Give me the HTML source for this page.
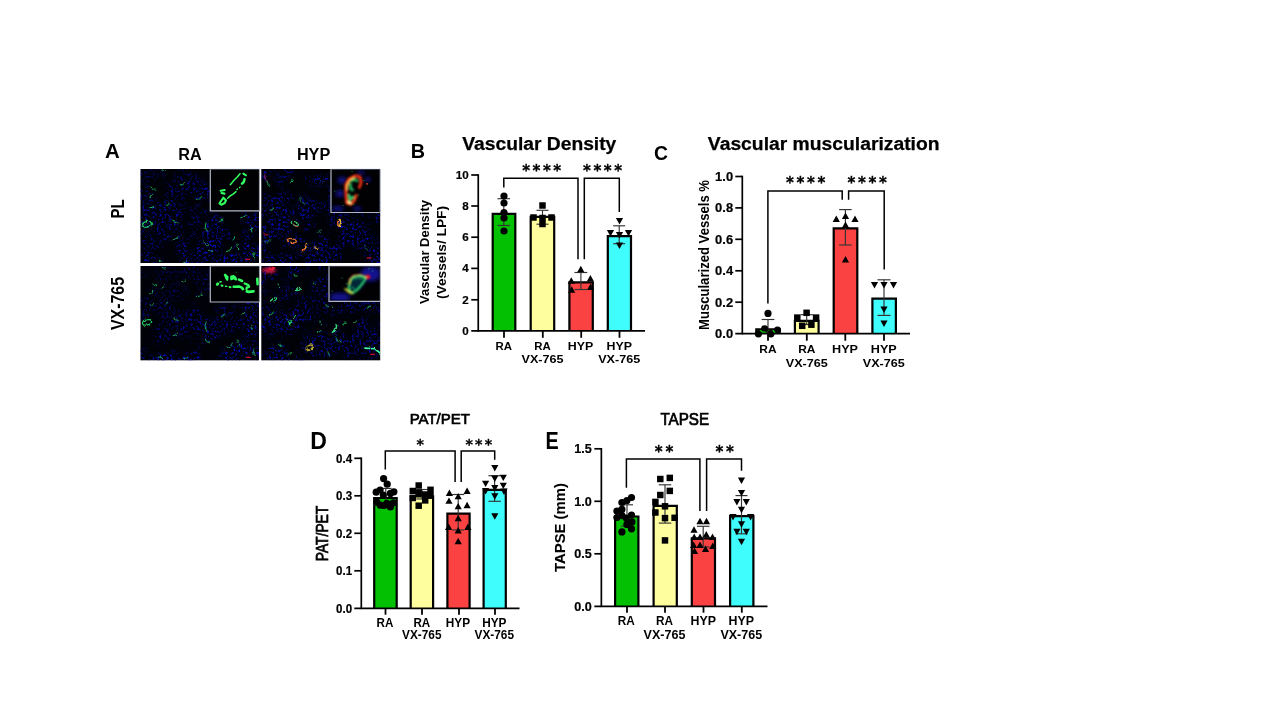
<!DOCTYPE html><html><head><meta charset="utf-8"><title>Figure</title><style>html,body{margin:0;padding:0;background:#fff}svg{display:block}text{font-family:"Liberation Sans", sans-serif}</style></head><body>
<svg width="1280" height="720" viewBox="0 0 1280 720">
<rect width="1280" height="720" fill="#fff"/>
<text x="104.9" y="158.1" font-size="19.5" font-weight="bold" text-anchor="start" fill="#000" textLength="14.8" lengthAdjust="spacingAndGlyphs">A</text>
<text x="190" y="160" font-size="16.5" font-weight="bold" text-anchor="middle" fill="#000" textLength="23.4" lengthAdjust="spacingAndGlyphs">RA</text>
<text x="313.6" y="160.4" font-size="16.8" font-weight="bold" text-anchor="middle" fill="#000" textLength="33.4" lengthAdjust="spacingAndGlyphs">HYP</text>
<text x="124.2" y="209" font-size="17.5" font-weight="bold" text-anchor="middle" fill="#000" textLength="19" lengthAdjust="spacingAndGlyphs" transform="rotate(-90 124.2 209)">PL</text>
<text x="124.2" y="303.5" font-size="17.5" font-weight="bold" text-anchor="middle" fill="#000" textLength="53" lengthAdjust="spacingAndGlyphs" transform="rotate(-90 124.2 303.5)">VX-765</text>
<defs>
<filter id="spk0" x="0" y="0" width="100%" height="100%" color-interpolation-filters="sRGB">
<feTurbulence type="fractalNoise" baseFrequency="0.42" numOctaves="2" seed="11" result="n"/>
<feColorMatrix in="n" type="matrix" values="0 0 0 0 0.03  0 0 0 0 0.04  0 0 0 0 0.74  4.2 0 0 0 -2.12" result="b"/>
<feTurbulence type="fractalNoise" baseFrequency="0.045" numOctaves="3" seed="5" result="m"/>
<feColorMatrix in="m" type="matrix" values="0 0 0 0 0  0 0 0 0 0  0 0 0 0 0  0 5 0 0 -1.85" result="mm"/>
<feComposite in="b" in2="mm" operator="in" result="c"/>
<feComposite in="c" in2="SourceGraphic" operator="in"/>
</filter>
<filter id="spk1" x="0" y="0" width="100%" height="100%" color-interpolation-filters="sRGB">
<feTurbulence type="fractalNoise" baseFrequency="0.42" numOctaves="2" seed="23" result="n"/>
<feColorMatrix in="n" type="matrix" values="0 0 0 0 0.03  0 0 0 0 0.04  0 0 0 0 0.74  4.2 0 0 0 -2.12" result="b"/>
<feTurbulence type="fractalNoise" baseFrequency="0.045" numOctaves="3" seed="9" result="m"/>
<feColorMatrix in="m" type="matrix" values="0 0 0 0 0  0 0 0 0 0  0 0 0 0 0  0 5 0 0 -1.85" result="mm"/>
<feComposite in="b" in2="mm" operator="in" result="c"/>
<feComposite in="c" in2="SourceGraphic" operator="in"/>
</filter>
<filter id="spk2" x="0" y="0" width="100%" height="100%" color-interpolation-filters="sRGB">
<feTurbulence type="fractalNoise" baseFrequency="0.42" numOctaves="2" seed="37" result="n"/>
<feColorMatrix in="n" type="matrix" values="0 0 0 0 0.03  0 0 0 0 0.04  0 0 0 0 0.74  4.2 0 0 0 -2.12" result="b"/>
<feTurbulence type="fractalNoise" baseFrequency="0.045" numOctaves="3" seed="14" result="m"/>
<feColorMatrix in="m" type="matrix" values="0 0 0 0 0  0 0 0 0 0  0 0 0 0 0  0 5 0 0 -1.85" result="mm"/>
<feComposite in="b" in2="mm" operator="in" result="c"/>
<feComposite in="c" in2="SourceGraphic" operator="in"/>
</filter>
<filter id="spk3" x="0" y="0" width="100%" height="100%" color-interpolation-filters="sRGB">
<feTurbulence type="fractalNoise" baseFrequency="0.42" numOctaves="2" seed="41" result="n"/>
<feColorMatrix in="n" type="matrix" values="0 0 0 0 0.03  0 0 0 0 0.04  0 0 0 0 0.74  4.2 0 0 0 -2.12" result="b"/>
<feTurbulence type="fractalNoise" baseFrequency="0.045" numOctaves="3" seed="19" result="m"/>
<feColorMatrix in="m" type="matrix" values="0 0 0 0 0  0 0 0 0 0  0 0 0 0 0  0 5 0 0 -1.85" result="mm"/>
<feComposite in="b" in2="mm" operator="in" result="c"/>
<feComposite in="c" in2="SourceGraphic" operator="in"/>
</filter>
<linearGradient id="tg0" x1="0" y1="0" x2="0.35" y2="1"><stop offset="0" stop-color="#fff" stop-opacity="0.55"/><stop offset="0.5" stop-color="#fff" stop-opacity="0.8"/><stop offset="1" stop-color="#fff" stop-opacity="1"/></linearGradient>
<linearGradient id="tg1" x1="0" y1="0" x2="0.2" y2="1"><stop offset="0" stop-color="#fff" stop-opacity="0.85"/><stop offset="1" stop-color="#fff" stop-opacity="0.9"/></linearGradient>
<linearGradient id="tg2" x1="0" y1="0" x2="0.4" y2="1"><stop offset="0" stop-color="#fff" stop-opacity="0.35"/><stop offset="0.45" stop-color="#fff" stop-opacity="0.6"/><stop offset="1" stop-color="#fff" stop-opacity="1"/></linearGradient>
<linearGradient id="tg3" x1="0" y1="0" x2="0.2" y2="1"><stop offset="0" stop-color="#fff" stop-opacity="0.75"/><stop offset="1" stop-color="#fff" stop-opacity="0.8"/></linearGradient>
<filter id="gr" x="-10%" y="-10%" width="120%" height="120%">
<feTurbulence type="fractalNoise" baseFrequency="0.35" numOctaves="2" seed="3" result="t"/>
<feDisplacementMap in="SourceGraphic" in2="t" scale="3.2" xChannelSelector="R" yChannelSelector="G" result="d"/>
<feGaussianBlur in="d" stdDeviation="0.4"/>
</filter>
<filter id="bl" x="-20%" y="-20%" width="140%" height="140%"><feGaussianBlur stdDeviation="0.45"/></filter>
<filter id="bl2" x="-30%" y="-30%" width="160%" height="160%"><feGaussianBlur stdDeviation="2.2"/></filter>
<filter id="bl3" x="-30%" y="-30%" width="160%" height="160%"><feGaussianBlur stdDeviation="0.8"/></filter>
</defs>
<rect x="140.5" y="169" width="118.5" height="94" fill="#010208"/>
<rect x="140.5" y="169" width="118.5" height="94" fill="url(#tg0)" filter="url(#spk0)"/>
<g filter="url(#gr)" clip-path="url(#cp0)">
<clipPath id="cp0"><rect x="140.5" y="169" width="118.5" height="94"/></clipPath>
<ellipse cx="147.0" cy="224.3" rx="4.4" ry="2.8" transform="rotate(-15 147.0 224.3)" stroke="#22e070" stroke-width="1.2" stroke-opacity="0.9" fill="none"/>
<path d="M150.8 187.0Q152.5 190.0 155.8 189.4" stroke="#22e070" stroke-width="0.9" stroke-opacity="0.85" fill="none" stroke-linecap="round"/>
<path d="M149.6 197.2Q152.1 197.0 152.8 194.5" stroke="#22e070" stroke-width="0.9" stroke-opacity="0.85" fill="none" stroke-linecap="round"/>
<path d="M149.9 207.7Q152.4 208.3 153.8 206.3" stroke="#22e070" stroke-width="0.9" stroke-opacity="0.85" fill="none" stroke-linecap="round"/>
<path d="M166.5 205.8Q169.0 205.1 169.2 202.6" stroke="#22e070" stroke-width="0.9" stroke-opacity="0.85" fill="none" stroke-linecap="round"/>
<path d="M180.2 184.9Q183.0 185.6 184.7 183.2" stroke="#22e070" stroke-width="0.9" stroke-opacity="0.85" fill="none" stroke-linecap="round"/>
<path d="M196.3 199.3Q200.0 199.9 201.9 196.6" stroke="#22e070" stroke-width="0.9" stroke-opacity="0.85" fill="none" stroke-linecap="round"/>
<path d="M172.8 220.0Q174.4 223.4 178.2 223.1" stroke="#22e070" stroke-width="0.9" stroke-opacity="0.85" fill="none" stroke-linecap="round"/>
<path d="M206.0 223.0Q203.9 227.6 207.5 231.2" stroke="#22e070" stroke-width="0.9" stroke-opacity="0.85" fill="none" stroke-linecap="round"/>
<path d="M173.1 239.6Q176.5 239.9 177.9 236.8" stroke="#22e070" stroke-width="0.9" stroke-opacity="0.85" fill="none" stroke-linecap="round"/>
<path d="M203.9 242.0Q204.8 245.2 208.2 245.5" stroke="#22e070" stroke-width="0.9" stroke-opacity="0.85" fill="none" stroke-linecap="round"/>
<path d="M226.3 251.5Q230.5 251.2 231.6 247.1" stroke="#22e070" stroke-width="0.9" stroke-opacity="0.85" fill="none" stroke-linecap="round"/>
<path d="M237.0 243.9Q236.2 247.2 238.9 249.1" stroke="#22e070" stroke-width="0.9" stroke-opacity="0.85" fill="none" stroke-linecap="round"/>
<path d="M240.8 217.6Q244.6 217.9 246.2 214.4" stroke="#22e070" stroke-width="0.9" stroke-opacity="0.85" fill="none" stroke-linecap="round"/>
<path d="M251.9 227.8Q250.4 229.9 251.9 232.0" stroke="#22e070" stroke-width="0.9" stroke-opacity="0.85" fill="none" stroke-linecap="round"/>
<path d="M254.0 252.8Q252.2 256.7 255.2 259.7" stroke="#22e070" stroke-width="0.9" stroke-opacity="0.85" fill="none" stroke-linecap="round"/>
<path d="M158.6 259.8Q159.8 261.6 161.8 261.0" stroke="#22e070" stroke-width="0.9" stroke-opacity="0.85" fill="none" stroke-linecap="round"/>
<path d="M183.7 262.7Q185.8 262.9 186.7 260.9" stroke="#22e070" stroke-width="0.9" stroke-opacity="0.85" fill="none" stroke-linecap="round"/>
<path d="M162.0 169.9Q163.5 171.4 165.4 170.5" stroke="#22e070" stroke-width="0.9" stroke-opacity="0.85" fill="none" stroke-linecap="round"/>
<path d="M219.7 221.5Q222.3 221.3 222.9 218.8" stroke="#22e070" stroke-width="0.9" stroke-opacity="0.85" fill="none" stroke-linecap="round"/>
<path d="M208.2 250.3Q210.0 252.1 212.3 251.1" stroke="#22e070" stroke-width="0.9" stroke-opacity="0.85" fill="none" stroke-linecap="round"/>
<path d="M232.8 240.0Q235.1 238.9 234.9 236.4" stroke="#22e070" stroke-width="0.9" stroke-opacity="0.85" fill="none" stroke-linecap="round"/>
</g>
<rect x="245.3" y="258.7" width="4.8" height="1.3" fill="#d01030" opacity="0.9" filter="url(#bl)"/>
<rect x="261.3" y="169" width="118.9" height="94" fill="#010208"/>
<rect x="261.3" y="169" width="118.9" height="94" fill="url(#tg1)" filter="url(#spk1)"/>
<g filter="url(#gr)" clip-path="url(#cp1)">
<clipPath id="cp1"><rect x="261.3" y="169" width="118.9" height="94"/></clipPath>
<path d="M264.9 173.9Q263.6 178.8 267.8 181.7" stroke="#c030a0" stroke-width="0.9" stroke-opacity="0.85" fill="none" stroke-linecap="round"/>
<path d="M267.0 181.6Q266.7 185.0 269.8 186.5" stroke="#22e070" stroke-width="0.9" stroke-opacity="0.85" fill="none" stroke-linecap="round"/>
<path d="M290.5 182.9Q292.9 181.2 292.2 178.3" stroke="#22e070" stroke-width="0.9" stroke-opacity="0.85" fill="none" stroke-linecap="round"/>
<path d="M269.6 210.6Q273.0 210.6 274.2 207.5" stroke="#22e070" stroke-width="0.9" stroke-opacity="0.85" fill="none" stroke-linecap="round"/>
<path d="M299.8 197.5Q300.2 202.6 305.1 203.9" stroke="#209060" stroke-width="0.9" stroke-opacity="0.85" fill="none" stroke-linecap="round"/>
<path d="M264.5 242.2Q268.6 243.3 271.0 239.8" stroke="#209050" stroke-width="0.9" stroke-opacity="0.85" fill="none" stroke-linecap="round"/>
<path d="M364.9 245.5Q364.6 248.9 367.7 250.3" stroke="#209050" stroke-width="0.9" stroke-opacity="0.85" fill="none" stroke-linecap="round"/>
<path d="M263.4 233.2Q265.1 235.6 267.9 234.9" stroke="#ff2050" stroke-width="0.9" stroke-opacity="0.85" fill="none" stroke-linecap="round"/>
<path d="M317.8 232.9Q320.2 232.2 320.4 229.7" stroke="#209060" stroke-width="0.9" stroke-opacity="0.85" fill="none" stroke-linecap="round"/>
<path d="M320.1 180.2Q321.1 182.5 323.7 182.3" stroke="#2040c0" stroke-width="0.9" stroke-opacity="0.85" fill="none" stroke-linecap="round"/>
<ellipse cx="294.8" cy="223.6" rx="3.9" ry="1.7" transform="rotate(25 294.8 223.6)" stroke="#40e080" stroke-width="1.1" stroke-opacity="0.9" fill="none"/>
<path d="M293.4 224.1Q295.3 227.4 299.0 226.8" stroke="#ff4040" stroke-width="0.9" stroke-opacity="0.85" fill="none" stroke-linecap="round"/>
<ellipse cx="292.0" cy="240.6" rx="4.4" ry="1.9" transform="rotate(15 292.0 240.6)" stroke="#ff8030" stroke-width="1.3" stroke-opacity="0.9" fill="none"/>
<path d="M302.6 250.5Q306.8 248.6 306.4 243.9" stroke="#ffc030" stroke-width="1.6" stroke-opacity="0.85" fill="none" stroke-linecap="round"/>
<path d="M301.8 250.9Q305.6 249.1 305.3 244.9" stroke="#ff3030" stroke-width="0.8" stroke-opacity="0.85" fill="none" stroke-linecap="round"/>
<path d="M314.7 247.3Q315.9 249.1 318.0 248.5" stroke="#e0a040" stroke-width="1.3" stroke-opacity="0.85" fill="none" stroke-linecap="round"/>
<ellipse cx="339.2" cy="222.7" rx="1.2" ry="3.3" transform="rotate(10 339.2 222.7)" stroke="#ffd040" stroke-width="1.3" stroke-opacity="0.9" fill="none"/>
<path d="M338.5 220.2Q336.3 222.8 338.0 225.7" stroke="#ff4030" stroke-width="0.8" stroke-opacity="0.85" fill="none" stroke-linecap="round"/>
</g>
<rect x="366.7" y="257.3" width="4.8" height="1.3" fill="#d01030" opacity="0.9" filter="url(#bl)"/>
<rect x="140.5" y="266" width="118.5" height="94.3" fill="#010208"/>
<rect x="140.5" y="266" width="118.5" height="94.3" fill="url(#tg2)" filter="url(#spk2)"/>
<g filter="url(#gr)" clip-path="url(#cp2)">
<clipPath id="cp2"><rect x="140.5" y="266" width="118.5" height="94.3"/></clipPath>
<ellipse cx="147.0" cy="322.4" rx="4.7" ry="2.5" transform="rotate(-15 147.0 322.4)" stroke="#22e070" stroke-width="1.2" stroke-opacity="0.9" fill="none"/>
<path d="M162.0 267.3Q163.5 268.8 165.4 267.9" stroke="#22e070" stroke-width="0.9" stroke-opacity="0.75" fill="none" stroke-linecap="round"/>
<path d="M181.9 281.6Q184.4 282.1 185.7 279.9" stroke="#22e070" stroke-width="0.9" stroke-opacity="0.75" fill="none" stroke-linecap="round"/>
<path d="M152.5 283.9Q153.9 286.5 156.9 285.9" stroke="#22e070" stroke-width="0.9" stroke-opacity="0.75" fill="none" stroke-linecap="round"/>
<path d="M161.7 288.1Q163.8 287.9 164.3 285.9" stroke="#22e070" stroke-width="0.9" stroke-opacity="0.75" fill="none" stroke-linecap="round"/>
<path d="M149.6 293.9Q152.1 293.7 152.8 291.2" stroke="#22e070" stroke-width="0.9" stroke-opacity="0.75" fill="none" stroke-linecap="round"/>
<path d="M196.3 296.6Q200.0 297.3 201.9 294.0" stroke="#22e070" stroke-width="0.9" stroke-opacity="0.75" fill="none" stroke-linecap="round"/>
<path d="M149.9 305.1Q152.4 305.7 153.8 303.6" stroke="#22e070" stroke-width="0.9" stroke-opacity="0.75" fill="none" stroke-linecap="round"/>
<path d="M166.0 303.6Q168.1 303.0 168.3 300.9" stroke="#22e070" stroke-width="0.9" stroke-opacity="0.75" fill="none" stroke-linecap="round"/>
<path d="M173.1 317.5Q174.5 320.6 177.9 320.3" stroke="#22e070" stroke-width="0.9" stroke-opacity="0.75" fill="none" stroke-linecap="round"/>
<path d="M206.3 321.7Q203.3 326.9 207.2 331.4" stroke="#22e070" stroke-width="0.9" stroke-opacity="0.75" fill="none" stroke-linecap="round"/>
<path d="M173.1 335.6Q176.5 335.9 177.9 332.8" stroke="#22e070" stroke-width="0.9" stroke-opacity="0.75" fill="none" stroke-linecap="round"/>
<path d="M221.2 316.9Q223.7 316.5 224.2 314.0" stroke="#22e070" stroke-width="0.9" stroke-opacity="0.75" fill="none" stroke-linecap="round"/>
<path d="M241.1 314.1Q244.5 314.4 245.9 311.3" stroke="#22e070" stroke-width="0.9" stroke-opacity="0.75" fill="none" stroke-linecap="round"/>
<path d="M251.9 325.2Q250.4 327.3 251.9 329.3" stroke="#22e070" stroke-width="0.9" stroke-opacity="0.75" fill="none" stroke-linecap="round"/>
<path d="M205.3 339.4Q206.2 342.6 209.6 342.9" stroke="#22e070" stroke-width="0.9" stroke-opacity="0.75" fill="none" stroke-linecap="round"/>
<path d="M227.0 347.5Q231.2 347.2 232.3 343.1" stroke="#22e070" stroke-width="0.9" stroke-opacity="0.75" fill="none" stroke-linecap="round"/>
<path d="M237.0 339.9Q236.2 343.2 238.9 345.1" stroke="#22e070" stroke-width="0.9" stroke-opacity="0.75" fill="none" stroke-linecap="round"/>
<path d="M254.0 348.8Q252.2 352.7 255.2 355.7" stroke="#22e070" stroke-width="0.9" stroke-opacity="0.75" fill="none" stroke-linecap="round"/>
<path d="M158.6 356.5Q159.8 358.3 161.8 357.7" stroke="#22e070" stroke-width="0.9" stroke-opacity="0.75" fill="none" stroke-linecap="round"/>
<path d="M183.7 358.7Q185.8 358.9 186.7 356.9" stroke="#22e070" stroke-width="0.9" stroke-opacity="0.75" fill="none" stroke-linecap="round"/>
</g>
<rect x="246.0" y="356.7" width="4.8" height="1.3" fill="#d01030" opacity="0.9" filter="url(#bl)"/>
<rect x="261.3" y="266" width="118.9" height="94.3" fill="#010208"/>
<rect x="261.3" y="266" width="118.9" height="94.3" fill="url(#tg3)" filter="url(#spk3)"/>
<g filter="url(#gr)" clip-path="url(#cp3)">
<clipPath id="cp3"><rect x="261.3" y="266" width="118.9" height="94.3"/></clipPath>
<ellipse cx="269.1" cy="270.3" rx="7" ry="3.2" fill="#d01840" opacity="0.85" filter="url(#bl3)"/>
<path d="M269.2 268.7Q272.2 270.2 274.6 267.8" stroke="#ff2040" stroke-width="1.4" stroke-opacity="0.85" fill="none" stroke-linecap="round"/>
<ellipse cx="298.3" cy="289.1" rx="2.2" ry="1.4" transform="rotate(-35 298.3 289.1)" stroke="#40ff90" stroke-width="1.2" stroke-opacity="0.9" fill="none"/>
<ellipse cx="274.0" cy="299.5" rx="2.8" ry="1.4" transform="rotate(-30 274.0 299.5)" stroke="#30e080" stroke-width="1.1" stroke-opacity="0.9" fill="none"/>
<ellipse cx="309.4" cy="347.7" rx="3.3" ry="2.2" transform="rotate(-30 309.4 347.7)" stroke="#d0c030" stroke-width="1.3" stroke-opacity="0.9" fill="none"/>
<path d="M285.8 317.5L290.6 325.2" stroke="#22e070" stroke-width="1" stroke-opacity="1" fill="none" stroke-linecap="round" stroke-linejoin="round"/>
<path d="M295.5 315.5L289.9 323.1" stroke="#22e070" stroke-width="1" stroke-opacity="1" fill="none" stroke-linecap="round" stroke-linejoin="round"/>
<path d="M332.3 332.3Q336.9 330.1 336.5 325.0" stroke="#40ff90" stroke-width="1.5" stroke-opacity="0.85" fill="none" stroke-linecap="round"/>
<path d="M364.9 348.1L374.6 348.8L380.2 353.0" stroke="#40ffa0" stroke-width="1.6" stroke-opacity="1" fill="none" stroke-linecap="round" stroke-linejoin="round"/>
<path d="M278.0 284.8Q277.8 286.9 279.7 287.8" stroke="#22e070" stroke-width="0.9" stroke-opacity="0.8" fill="none" stroke-linecap="round"/>
<path d="M293.7 274.2Q294.8 276.5 297.3 276.2" stroke="#22e070" stroke-width="0.9" stroke-opacity="0.8" fill="none" stroke-linecap="round"/>
<path d="M311.9 281.5Q312.6 283.9 315.1 284.2" stroke="#22e070" stroke-width="0.9" stroke-opacity="0.8" fill="none" stroke-linecap="round"/>
<path d="M325.4 305.1Q328.4 308.1 332.2 306.3" stroke="#22e070" stroke-width="0.9" stroke-opacity="0.8" fill="none" stroke-linecap="round"/>
<path d="M317.3 332.5Q319.8 332.7 320.9 330.4" stroke="#22e070" stroke-width="0.9" stroke-opacity="0.8" fill="none" stroke-linecap="round"/>
<path d="M288.0 354.4Q290.4 355.0 291.9 352.9" stroke="#22e070" stroke-width="0.9" stroke-opacity="0.8" fill="none" stroke-linecap="round"/>
<path d="M278.4 344.3Q279.5 346.6 282.0 346.4" stroke="#22e070" stroke-width="0.9" stroke-opacity="0.8" fill="none" stroke-linecap="round"/>
<path d="M327.8 351.8Q327.6 354.4 329.9 355.4" stroke="#22e070" stroke-width="0.9" stroke-opacity="0.8" fill="none" stroke-linecap="round"/>
<path d="M366.5 307.4Q369.8 308.3 371.7 305.5" stroke="#22e070" stroke-width="0.9" stroke-opacity="0.8" fill="none" stroke-linecap="round"/>
<path d="M270.4 314.9Q272.9 314.4 273.4 311.9" stroke="#22e070" stroke-width="0.9" stroke-opacity="0.8" fill="none" stroke-linecap="round"/>
<path d="M342.5 324.4Q345.0 324.2 345.7 321.8" stroke="#22e070" stroke-width="0.9" stroke-opacity="0.8" fill="none" stroke-linecap="round"/>
<path d="M335.9 337.5Q337.0 341.6 341.2 342.0" stroke="#22e070" stroke-width="0.9" stroke-opacity="0.8" fill="none" stroke-linecap="round"/>
<path d="M353.4 322.8Q355.9 323.0 357.0 320.7" stroke="#22e070" stroke-width="0.9" stroke-opacity="0.8" fill="none" stroke-linecap="round"/>
<path d="M320.1 321.0Q319.1 323.4 320.8 325.1" stroke="#22e070" stroke-width="0.9" stroke-opacity="0.8" fill="none" stroke-linecap="round"/>
</g>
<rect x="370.2" y="353.7" width="4.8" height="1.3" fill="#d01030" opacity="0.9" filter="url(#bl)"/>
<rect x="210.3" y="169.3" width="49" height="41.5" fill="#010103"/>
<clipPath id="ci0"><rect x="210.3" y="169.3" width="49" height="41.5"/></clipPath>
<g clip-path="url(#ci0)">
<g filter="url(#bl)">
<path d="M230.3 184.7L234.0 180.3L237.3 177.0L240.0 173.7" stroke="#30ff60" stroke-width="1.5" stroke-opacity="1" fill="none" stroke-linecap="round" stroke-linejoin="round"/>
<path d="M243.3 173.7L246.0 175.3" stroke="#30ff60" stroke-width="2" stroke-opacity="1" fill="none" stroke-linecap="round" stroke-linejoin="round"/>
<path d="M244.5 179.3L243.7 182.0L242.0 183.7" stroke="#30ff60" stroke-width="2.5" stroke-opacity="1" fill="none" stroke-linecap="round" stroke-linejoin="round"/>
<path d="M240.2 186.9L239.3 187.8" stroke="#30ff60" stroke-width="1.2" stroke-opacity="1" fill="none" stroke-linecap="round" stroke-linejoin="round"/>
<path d="M237.5 189.0L236.7 189.7" stroke="#30ff60" stroke-width="1.2" stroke-opacity="1" fill="none" stroke-linecap="round" stroke-linejoin="round"/>
<path d="M236.0 191.7L232.7 194.3L230.0 196.0L227.7 198.3" stroke="#30ff60" stroke-width="1.5" stroke-opacity="1" fill="none" stroke-linecap="round" stroke-linejoin="round"/>
<path d="M223.3 197.7L226.0 200.3L224.7 203.0L221.3 204.7L219.5 203.3L221.0 201.0L223.0 198.3Z" stroke="#30ff60" stroke-width="2.1" stroke-opacity="1" fill="none" stroke-linecap="round" stroke-linejoin="round"/>
<path d="M220.7 190.7L224.7 190.0" stroke="#30ff60" stroke-width="2.1" stroke-opacity="1" fill="none" stroke-linecap="round" stroke-linejoin="round"/>
<path d="M221.7 193.0L224.3 193.7" stroke="#30ff60" stroke-width="2.3" stroke-opacity="1" fill="none" stroke-linecap="round" stroke-linejoin="round"/>
</g>
</g>
<path d="M210.3 169.3V210.8H259.3" stroke="#b0b6c4" stroke-width="1.2" fill="none"/>
<path d="M210.3 169.3H259.3V210.8" stroke="#8088a0" stroke-width="0.8" fill="none" opacity="0.7"/>
<rect x="331" y="169.3" width="48.8" height="43.2" fill="#010103"/>
<clipPath id="ci1"><rect x="331" y="169.3" width="48.8" height="43.2"/></clipPath>
<g clip-path="url(#ci1)">
<ellipse cx="342.0" cy="180.2" rx="4.2" ry="3.5" fill="#1616a8" opacity="0.85" filter="url(#bl2)"/>
<ellipse cx="339.9" cy="193.4" rx="4.2" ry="3.5" fill="#1616a8" opacity="0.85" filter="url(#bl2)"/>
<ellipse cx="337.8" cy="208.7" rx="6.2" ry="2.4" fill="#1616a8" opacity="0.85" filter="url(#bl2)"/>
<ellipse cx="360.7" cy="172.9" rx="3.5" ry="2.1" fill="#1616a8" opacity="0.85" filter="url(#bl2)"/>
<ellipse cx="367.7" cy="179.5" rx="2.8" ry="2.4" fill="#1616a8" opacity="0.85" filter="url(#bl2)"/>
<ellipse cx="357.2" cy="208.7" rx="4.2" ry="2.1" fill="#1616a8" opacity="0.85" filter="url(#bl2)"/>
<g filter="url(#bl3)">
<path d="M346.8 203.1L346.1 196.9L345.8 189.9L345.8 184.4L348.9 178.8L355.2 175.7L360.0 176.7L361.3 182.3L359.3 187.5" stroke="#ff3018" stroke-width="2.6" stroke-opacity="1" fill="none" stroke-linecap="round" stroke-linejoin="round"/>
<path d="M346.8 203.1L351.0 204.4L354.5 200.3L356.4 195.1" stroke="#ff3a18" stroke-width="2.6" stroke-opacity="1" fill="none" stroke-linecap="round" stroke-linejoin="round"/>
<path d="M347.2 189.9L347.2 185.4L350.0 180.5L354.1 177.8" stroke="#ffe060" stroke-width="1.5" stroke-opacity="1" fill="none" stroke-linecap="round" stroke-linejoin="round"/>
<path d="M348.6 201.7L350.3 202.8" stroke="#ffffa0" stroke-width="2.6" stroke-opacity="1" fill="none" stroke-linecap="round" stroke-linejoin="round"/>
<path d="M351.7 180.9L355.2 179.5L357.2 180.9" stroke="#20c060" stroke-width="2.4" stroke-opacity="1" fill="none" stroke-linecap="round" stroke-linejoin="round"/>
<path d="M350.3 184.4L351.0 189.2L352.7 189.9" stroke="#20c060" stroke-width="2.6" stroke-opacity="1" fill="none" stroke-linecap="round" stroke-linejoin="round"/>
<path d="M348.9 194.8L350.0 199.6L353.1 196.9" stroke="#30e070" stroke-width="2.4" stroke-opacity="1" fill="none" stroke-linecap="round" stroke-linejoin="round"/>
</g>
<g filter="url(#bl)">
<ellipse cx="367.0" cy="183.9" rx="1.2" ry="0.8" fill="#e04020" opacity="0.9" filter="url(#bl)"/>
<ellipse cx="352.0" cy="171.5" rx="0.7" ry="0.6" fill="#20a040" opacity="0.8" filter="url(#bl)"/>
<ellipse cx="364.1" cy="180.5" rx="0.7" ry="0.6" fill="#20a040" opacity="0.8" filter="url(#bl)"/>
<ellipse cx="334.7" cy="191.0" rx="0.7" ry="0.6" fill="#20a040" opacity="0.8" filter="url(#bl)"/>
<ellipse cx="343.0" cy="205.5" rx="0.7" ry="0.6" fill="#20a040" opacity="0.8" filter="url(#bl)"/>
<ellipse cx="353.8" cy="204.5" rx="0.7" ry="0.6" fill="#20a040" opacity="0.8" filter="url(#bl)"/>
<ellipse cx="358.6" cy="195.1" rx="0.7" ry="0.6" fill="#20a040" opacity="0.8" filter="url(#bl)"/>
</g>
</g>
<path d="M331 169.3V212.5H379.8" stroke="#b0b6c4" stroke-width="1.2" fill="none"/>
<path d="M331 169.3H379.8V212.5" stroke="#8088a0" stroke-width="0.8" fill="none" opacity="0.7"/>
<rect x="210.3" y="266.2" width="49" height="35.8" fill="#010103"/>
<clipPath id="ci2"><rect x="210.3" y="266.2" width="49" height="35.8"/></clipPath>
<g clip-path="url(#ci2)">
<g filter="url(#bl)">
<path d="M224.9 274.8L226.1 277.7L227.2 279.7L227.5 277.1L225.5 275.1Z" stroke="#30ff60" stroke-width="2.2" stroke-opacity="1" fill="#30ff60" stroke-linecap="round" stroke-linejoin="round"/>
<path d="M231.3 276.5L233.4 276.0L235.4 277.7L236.0 279.5L233.7 278.0L231.3 279.2Z" stroke="#30ff60" stroke-width="2.2" stroke-opacity="1" fill="#30ff60" stroke-linecap="round" stroke-linejoin="round"/>
<path d="M238.9 279.6L242.1 281.0" stroke="#30ff60" stroke-width="2.6" stroke-opacity="1" fill="none" stroke-linecap="round" stroke-linejoin="round"/>
<path d="M244.7 283.5L248.2 285.0L249.1 286.7L246.8 287.6L246.5 289.1" stroke="#30ff60" stroke-width="2.3" stroke-opacity="1" fill="none" stroke-linecap="round" stroke-linejoin="round"/>
<path d="M246.8 291.4L248.8 291.9L253.5 291.3" stroke="#30ff60" stroke-width="2.8" stroke-opacity="1" fill="none" stroke-linecap="round" stroke-linejoin="round"/>
<path d="M233.7 286.7L239.5 286.6L241.8 287.6L243.0 289.1" stroke="#30ff60" stroke-width="2.6" stroke-opacity="1" fill="none" stroke-linecap="round" stroke-linejoin="round"/>
<path d="M229.7 287.0L230.4 287.2" stroke="#30ff60" stroke-width="2.2" stroke-opacity="1" fill="none" stroke-linecap="round" stroke-linejoin="round"/>
<path d="M225.5 286.2L226.8 286.4" stroke="#30ff60" stroke-width="1.4" stroke-opacity="1" fill="none" stroke-linecap="round" stroke-linejoin="round"/>
<path d="M221.5 285.6L222.5 285.8" stroke="#30ff60" stroke-width="2" stroke-opacity="1" fill="none" stroke-linecap="round" stroke-linejoin="round"/>
<path d="M217.2 284.4L217.9 283.8" stroke="#30ff60" stroke-width="2.8" stroke-opacity="1" fill="none" stroke-linecap="round" stroke-linejoin="round"/>
<path d="M220.0 282.0L221.1 281.7" stroke="#30ff60" stroke-width="1.6" stroke-opacity="1" fill="none" stroke-linecap="round" stroke-linejoin="round"/>
<path d="M257.3 278.9L257.6 284.1" stroke="#30ff60" stroke-width="2.6" stroke-opacity="1" fill="none" stroke-linecap="round" stroke-linejoin="round"/>
<ellipse cx="236.6" cy="272.2" rx="0.7" ry="0.6" fill="#108040" opacity="0.8" filter="url(#bl)"/>
</g>
</g>
<path d="M210.3 266.2V302.0H259.3" stroke="#b0b6c4" stroke-width="1.2" fill="none"/>
<path d="M210.3 266.2H259.3V302.0" stroke="#8088a0" stroke-width="0.8" fill="none" opacity="0.7"/>
<rect x="329" y="266.2" width="51" height="35.2" fill="#010103"/>
<clipPath id="ci3"><rect x="329" y="266.2" width="51" height="35.2"/></clipPath>
<g clip-path="url(#ci3)">
<ellipse cx="370.6" cy="273.9" rx="9.9" ry="7.6" fill="#1414a0" opacity="0.9" filter="url(#bl2)"/>
<ellipse cx="339.7" cy="297.2" rx="11.1" ry="4.1" fill="#1414a0" opacity="0.9" filter="url(#bl2)"/>
<ellipse cx="356.7" cy="283.2" rx="7.0" ry="5.2" fill="#101070" opacity="0.7" filter="url(#bl2)"/>
<g filter="url(#bl3)">
<ellipse cx="367.7" cy="276.9" rx="2.6" ry="2.2" fill="#ff1828" opacity="1" filter="url(#bl)"/>
<path d="M349.7 279.7L353.2 276.0L360.2 274.8L364.8 276.5" stroke="#ff4020" stroke-width="1.8" stroke-opacity="1" fill="none" stroke-linecap="round" stroke-linejoin="round"/>
<path d="M349.1 283.2L350.8 279.3L354.3 276.4L360.2 275.5L365.3 277.5L364.8 280.9L361.3 285.6L357.8 289.7L353.2 293.2L349.7 292.0L348.5 287.3Z" stroke="#30ff80" stroke-width="1.4" stroke-opacity="1" fill="#062838" stroke-linecap="round" stroke-linejoin="round"/>
<path d="M345.3 289.0L349.7 292.5L352.0 293.4" stroke="#e8f040" stroke-width="1.7" stroke-opacity="1" fill="none" stroke-linecap="round" stroke-linejoin="round"/>
<path d="M348.8 284.1L349.9 280.3" stroke="#f0e040" stroke-width="1.3" stroke-opacity="1" fill="none" stroke-linecap="round" stroke-linejoin="round"/>
<path d="M354.3 278.6L359.0 277.7L361.9 279.2" stroke="#30d080" stroke-width="1" stroke-opacity="0.7" fill="none" stroke-linecap="round" stroke-linejoin="round"/>
<path d="M351.4 287.3L354.3 288.5L355.5 291.4" stroke="#30d080" stroke-width="1" stroke-opacity="0.7" fill="none" stroke-linecap="round" stroke-linejoin="round"/>
</g>
<ellipse cx="342.1" cy="278.0" rx="0.7" ry="0.6" fill="#20a050" opacity="0.8" filter="url(#bl)"/>
<ellipse cx="332.2" cy="291.1" rx="0.7" ry="0.6" fill="#20a050" opacity="0.8" filter="url(#bl)"/>
<ellipse cx="372.7" cy="271.0" rx="0.7" ry="0.6" fill="#20a050" opacity="0.8" filter="url(#bl)"/>
<ellipse cx="368.9" cy="268.7" rx="0.7" ry="0.6" fill="#20a050" opacity="0.8" filter="url(#bl)"/>
<ellipse cx="346.2" cy="283.8" rx="0.7" ry="0.6" fill="#20a050" opacity="0.8" filter="url(#bl)"/>
</g>
<path d="M329 266.2V301.4H380" stroke="#b0b6c4" stroke-width="1.2" fill="none"/>
<path d="M329 266.2H380V301.4" stroke="#8088a0" stroke-width="0.8" fill="none" opacity="0.7"/>
<text x="410.7" y="158.1" font-size="19.8" font-weight="bold" text-anchor="start" fill="#000">B</text>
<text x="539.3" y="150" font-size="18.8" font-weight="bold" text-anchor="middle" fill="#000" textLength="154" lengthAdjust="spacingAndGlyphs" stroke="#000" stroke-width="0.25">Vascular Density</text>
<text x="429.2" y="252" font-size="13.6" font-weight="bold" text-anchor="middle" fill="#000" textLength="104" lengthAdjust="spacingAndGlyphs" transform="rotate(-90 429.2 252)">Vascular Density</text>
<text x="445.5" y="252.5" font-size="13.6" font-weight="bold" text-anchor="middle" fill="#000" textLength="93" lengthAdjust="spacingAndGlyphs" transform="rotate(-90 445.5 252.5)">(Vessels/ LPF)</text>
<path d="M492.70 330.9V213.90H515.30V330.9" fill="#03c003" stroke="#000" stroke-width="2.2"/>
<path d="M530.70 330.9V216.80H554.20V330.9" fill="#fffe9f" stroke="#000" stroke-width="2.2"/>
<path d="M569.40 330.9V282.40H592.80V330.9" fill="#fa4242" stroke="#000" stroke-width="2.2"/>
<path d="M607.80 330.9V236.10H631.00V330.9" fill="#40fdfd" stroke="#000" stroke-width="2.2"/>
<line x1="503.8" y1="198.7" x2="503.8" y2="225.5" stroke="#333" stroke-width="1.15"/>
<line x1="497.55" y1="198.7" x2="510.05" y2="198.7" stroke="#333" stroke-width="1.15"/>
<line x1="497.55" y1="225.5" x2="510.05" y2="225.5" stroke="#333" stroke-width="1.15"/>
<line x1="542.5" y1="210.3" x2="542.5" y2="224.2" stroke="#333" stroke-width="1.15"/>
<line x1="536.5" y1="210.3" x2="548.5" y2="210.3" stroke="#333" stroke-width="1.15"/>
<line x1="536.5" y1="224.2" x2="548.5" y2="224.2" stroke="#333" stroke-width="1.15"/>
<line x1="580.9" y1="272.5" x2="580.9" y2="289.5" stroke="#333" stroke-width="1.15"/>
<line x1="574.5" y1="272.5" x2="587.3" y2="272.5" stroke="#333" stroke-width="1.15"/>
<line x1="574.5" y1="289.5" x2="587.3" y2="289.5" stroke="#333" stroke-width="1.15"/>
<line x1="619.2" y1="225.8" x2="619.2" y2="243.7" stroke="#333" stroke-width="1.15"/>
<line x1="613.2" y1="225.8" x2="625.2" y2="225.8" stroke="#333" stroke-width="1.15"/>
<line x1="613.2" y1="243.7" x2="625.2" y2="243.7" stroke="#333" stroke-width="1.15"/>
<g fill="#000">
<circle cx="504" cy="196" r="3.6"/>
<circle cx="504" cy="203" r="3.6"/>
<circle cx="504" cy="212.5" r="3.6"/>
<circle cx="504" cy="218" r="3.6"/>
<circle cx="504" cy="231" r="3.6"/>
<rect x="539.26" y="202.26" width="6.48" height="6.48"/>
<rect x="530.26" y="214.26" width="6.48" height="6.48"/>
<rect x="548.26" y="214.26" width="6.48" height="6.48"/>
<rect x="539.26" y="214.76" width="6.48" height="6.48"/>
<rect x="539.26" y="220.76" width="6.48" height="6.48"/>
<path d="M577.20 272.16L584.40 272.16L580.8 265.68Z"/>
<path d="M567.70 283.66L574.90 283.66L571.3 277.18Z"/>
<path d="M586.80 281.46L594.00 281.46L590.4 274.98Z"/>
<path d="M568.10 292.76L575.30 292.76L571.7 286.28Z"/>
<path d="M587.00 289.96L594.20 289.96L590.6 283.48Z"/>
<path d="M615.90 217.94L623.10 217.94L619.5 224.42Z"/>
<path d="M606.90 229.94L614.10 229.94L610.5 236.42Z"/>
<path d="M624.90 229.94L632.10 229.94L628.5 236.42Z"/>
<path d="M615.90 231.94L623.10 231.94L619.5 238.42Z"/>
<path d="M615.90 242.44L623.10 242.44L619.5 248.92Z"/>
</g>
<line x1="478.25" y1="174.2" x2="478.25" y2="331.7" stroke="#000" stroke-width="1.7"/>
<line x1="471.25" y1="330.9" x2="645" y2="330.9" stroke="#000" stroke-width="1.7"/>
<line x1="471.25" y1="175" x2="478.25" y2="175" stroke="#000" stroke-width="1.7"/>
<text x="468.75" y="179.06" font-size="11.6" font-weight="bold" text-anchor="end" fill="#000" stroke="#000" stroke-width="0.2">10</text>
<line x1="471.25" y1="206" x2="478.25" y2="206" stroke="#000" stroke-width="1.7"/>
<text x="468.75" y="210.06" font-size="11.6" font-weight="bold" text-anchor="end" fill="#000" stroke="#000" stroke-width="0.2">8</text>
<line x1="471.25" y1="237.2" x2="478.25" y2="237.2" stroke="#000" stroke-width="1.7"/>
<text x="468.75" y="241.26" font-size="11.6" font-weight="bold" text-anchor="end" fill="#000" stroke="#000" stroke-width="0.2">6</text>
<line x1="471.25" y1="268.4" x2="478.25" y2="268.4" stroke="#000" stroke-width="1.7"/>
<text x="468.75" y="272.46" font-size="11.6" font-weight="bold" text-anchor="end" fill="#000" stroke="#000" stroke-width="0.2">4</text>
<line x1="471.25" y1="299.8" x2="478.25" y2="299.8" stroke="#000" stroke-width="1.7"/>
<text x="468.75" y="303.86" font-size="11.6" font-weight="bold" text-anchor="end" fill="#000" stroke="#000" stroke-width="0.2">2</text>
<text x="468.75" y="335.06" font-size="11.6" font-weight="bold" text-anchor="end" fill="#000" stroke="#000" stroke-width="0.2">0</text>
<line x1="504" y1="330.9" x2="504" y2="337.79999999999995" stroke="#000" stroke-width="1.8"/>
<line x1="542.8" y1="330.9" x2="542.8" y2="337.79999999999995" stroke="#000" stroke-width="1.8"/>
<line x1="581.2" y1="330.9" x2="581.2" y2="337.79999999999995" stroke="#000" stroke-width="1.8"/>
<line x1="619.5" y1="330.9" x2="619.5" y2="337.79999999999995" stroke="#000" stroke-width="1.8"/>
<text x="503.8" y="350.3" font-size="11.5" font-weight="bold" text-anchor="middle" fill="#000" textLength="16.5" lengthAdjust="spacingAndGlyphs">RA</text>
<text x="542.5" y="350.3" font-size="11.5" font-weight="bold" text-anchor="middle" fill="#000" textLength="16.5" lengthAdjust="spacingAndGlyphs">RA</text>
<text x="542.5" y="363.3" font-size="11.5" font-weight="bold" text-anchor="middle" fill="#000" textLength="42" lengthAdjust="spacingAndGlyphs">VX-765</text>
<text x="580.6" y="350.3" font-size="11.5" font-weight="bold" text-anchor="middle" fill="#000" textLength="25.5" lengthAdjust="spacingAndGlyphs">HYP</text>
<text x="619.2" y="350.3" font-size="11.5" font-weight="bold" text-anchor="middle" fill="#000" textLength="25.5" lengthAdjust="spacingAndGlyphs">HYP</text>
<text x="619.2" y="363.3" font-size="11.5" font-weight="bold" text-anchor="middle" fill="#000" textLength="42" lengthAdjust="spacingAndGlyphs">VX-765</text>
<path d="M503.8 187.5V178.3H578V259.3" fill="none" stroke="#000" stroke-width="1.5"/>
<path d="M584.3 259.3V178.3H619.3V212" fill="none" stroke="#000" stroke-width="1.5"/>
<text x="522.20 532.55 542.90 553.25" y="175.53" font-size="15" font-weight="bold" stroke="#000" stroke-width="0.3" style="font-family:'DejaVu Sans','Liberation Sans',sans-serif">****</text>
<text x="583.00 593.40 603.80 614.20" y="175.53" font-size="15" font-weight="bold" stroke="#000" stroke-width="0.3" style="font-family:'DejaVu Sans','Liberation Sans',sans-serif">****</text>
<text x="654.0" y="159.9" font-size="19.8" font-weight="bold" text-anchor="start" fill="#000" textLength="14.0" lengthAdjust="spacingAndGlyphs">C</text>
<text x="823.7" y="150" font-size="18.8" font-weight="bold" text-anchor="middle" fill="#000" textLength="231.7" lengthAdjust="spacingAndGlyphs" stroke="#000" stroke-width="0.25">Vascular muscularization</text>
<text x="708.6" y="255" font-size="14" font-weight="bold" text-anchor="middle" fill="#000" textLength="150" lengthAdjust="spacingAndGlyphs" transform="rotate(-90 708.6 255)">Muscularized Vessels %</text>
<path d="M756.30 333.6V329.30H779.70V333.6" fill="#03c003" stroke="#000" stroke-width="2.2"/>
<path d="M794.90 333.6V320.80H818.60V333.6" fill="#fffe9f" stroke="#000" stroke-width="2.2"/>
<path d="M833.70 333.6V228.30H857.30V333.6" fill="#fa4242" stroke="#000" stroke-width="2.2"/>
<path d="M872.40 333.6V298.70H895.90V333.6" fill="#40fdfd" stroke="#000" stroke-width="2.2"/>
<line x1="768" y1="319.5" x2="768" y2="333" stroke="#333" stroke-width="1.15"/>
<line x1="761.6" y1="319.5" x2="774.4" y2="319.5" stroke="#333" stroke-width="1.15"/>
<line x1="761.6" y1="333" x2="774.4" y2="333" stroke="#333" stroke-width="1.15"/>
<line x1="806.7" y1="314.7" x2="806.7" y2="324.5" stroke="#333" stroke-width="1.15"/>
<line x1="800.45" y1="314.7" x2="812.95" y2="314.7" stroke="#333" stroke-width="1.15"/>
<line x1="800.45" y1="324.5" x2="812.95" y2="324.5" stroke="#333" stroke-width="1.15"/>
<line x1="845.4" y1="209.6" x2="845.4" y2="245" stroke="#333" stroke-width="1.15"/>
<line x1="839.15" y1="209.6" x2="851.65" y2="209.6" stroke="#333" stroke-width="1.15"/>
<line x1="839.15" y1="245" x2="851.65" y2="245" stroke="#333" stroke-width="1.15"/>
<line x1="884" y1="279.8" x2="884" y2="315.4" stroke="#333" stroke-width="1.15"/>
<line x1="877.5" y1="279.8" x2="890.5" y2="279.8" stroke="#333" stroke-width="1.15"/>
<line x1="877.5" y1="315.4" x2="890.5" y2="315.4" stroke="#333" stroke-width="1.15"/>
<g fill="#000">
<circle cx="768" cy="313.4" r="3.6"/>
<circle cx="758.4" cy="333.8" r="3.6"/>
<circle cx="764.7" cy="328.8" r="3.6"/>
<circle cx="770.9" cy="333.8" r="3.6"/>
<circle cx="777.5" cy="330" r="3.6"/>
<rect x="803.36" y="309.56" width="6.48" height="6.48"/>
<rect x="794.06" y="314.36" width="6.48" height="6.48"/>
<rect x="812.86" y="314.36" width="6.48" height="6.48"/>
<rect x="798.96" y="322.56" width="6.48" height="6.48"/>
<rect x="808.16" y="321.46" width="6.48" height="6.48"/>
<path d="M832.70 222.06L839.90 222.06L836.3 215.58Z"/>
<path d="M841.90 219.06L849.10 219.06L845.5 212.58Z"/>
<path d="M851.40 222.06L858.60 222.06L855 215.58Z"/>
<path d="M841.90 228.06L849.10 228.06L845.5 221.58Z"/>
<path d="M841.90 262.56L849.10 262.56L845.5 256.08Z"/>
<path d="M870.90 281.94L878.10 281.94L874.5 288.42Z"/>
<path d="M880.40 281.94L887.60 281.94L884 288.42Z"/>
<path d="M889.90 281.94L897.10 281.94L893.5 288.42Z"/>
<path d="M880.40 306.44L887.60 306.44L884 312.92Z"/>
<path d="M880.40 320.44L887.60 320.44L884 326.92Z"/>
</g>
<path d="M760.3 330.3Q762.5 332.6 766 332.2M772.8 330.3Q774 331.5 775.2 332.8" stroke="#0ce00c" stroke-width="1.1" fill="none"/>
<line x1="742.3" y1="175.7" x2="742.3" y2="334.40000000000003" stroke="#000" stroke-width="1.7"/>
<line x1="735.3" y1="333.6" x2="910" y2="333.6" stroke="#000" stroke-width="1.7"/>
<line x1="735.3" y1="176.5" x2="742.3" y2="176.5" stroke="#000" stroke-width="1.7"/>
<text x="733.0999999999999" y="180.805" font-size="12.3" font-weight="bold" text-anchor="end" fill="#000" textLength="18" lengthAdjust="spacingAndGlyphs" stroke="#000" stroke-width="0.2">1.0</text>
<line x1="735.3" y1="207.9" x2="742.3" y2="207.9" stroke="#000" stroke-width="1.7"/>
<text x="733.0999999999999" y="212.205" font-size="12.3" font-weight="bold" text-anchor="end" fill="#000" textLength="18" lengthAdjust="spacingAndGlyphs" stroke="#000" stroke-width="0.2">0.8</text>
<line x1="735.3" y1="239.3" x2="742.3" y2="239.3" stroke="#000" stroke-width="1.7"/>
<text x="733.0999999999999" y="243.60500000000002" font-size="12.3" font-weight="bold" text-anchor="end" fill="#000" textLength="18" lengthAdjust="spacingAndGlyphs" stroke="#000" stroke-width="0.2">0.6</text>
<line x1="735.3" y1="270.8" x2="742.3" y2="270.8" stroke="#000" stroke-width="1.7"/>
<text x="733.0999999999999" y="275.105" font-size="12.3" font-weight="bold" text-anchor="end" fill="#000" textLength="18" lengthAdjust="spacingAndGlyphs" stroke="#000" stroke-width="0.2">0.4</text>
<line x1="735.3" y1="302.2" x2="742.3" y2="302.2" stroke="#000" stroke-width="1.7"/>
<text x="733.0999999999999" y="306.505" font-size="12.3" font-weight="bold" text-anchor="end" fill="#000" textLength="18" lengthAdjust="spacingAndGlyphs" stroke="#000" stroke-width="0.2">0.2</text>
<text x="733.0999999999999" y="337.90500000000003" font-size="12.3" font-weight="bold" text-anchor="end" fill="#000" textLength="18" lengthAdjust="spacingAndGlyphs" stroke="#000" stroke-width="0.2">0.0</text>
<line x1="768" y1="333.6" x2="768" y2="340.70000000000005" stroke="#000" stroke-width="1.8"/>
<line x1="806.8" y1="333.6" x2="806.8" y2="340.70000000000005" stroke="#000" stroke-width="1.8"/>
<line x1="845.3" y1="333.6" x2="845.3" y2="340.70000000000005" stroke="#000" stroke-width="1.8"/>
<line x1="884" y1="333.6" x2="884" y2="340.70000000000005" stroke="#000" stroke-width="1.8"/>
<text x="768" y="353" font-size="11.7" font-weight="bold" text-anchor="middle" fill="#000" textLength="17.3" lengthAdjust="spacingAndGlyphs">RA</text>
<text x="806.8" y="353" font-size="11.7" font-weight="bold" text-anchor="middle" fill="#000" textLength="17.3" lengthAdjust="spacingAndGlyphs">RA</text>
<text x="806.8" y="366.8" font-size="11.7" font-weight="bold" text-anchor="middle" fill="#000" textLength="42" lengthAdjust="spacingAndGlyphs">VX-765</text>
<text x="845" y="353" font-size="11.7" font-weight="bold" text-anchor="middle" fill="#000" textLength="26" lengthAdjust="spacingAndGlyphs">HYP</text>
<text x="883.8" y="353" font-size="11.7" font-weight="bold" text-anchor="middle" fill="#000" textLength="26" lengthAdjust="spacingAndGlyphs">HYP</text>
<text x="883.8" y="366.8" font-size="11.7" font-weight="bold" text-anchor="middle" fill="#000" textLength="42" lengthAdjust="spacingAndGlyphs">VX-765</text>
<path d="M767.9 303.5V191.1H842.2V199.8" fill="none" stroke="#000" stroke-width="1.5"/>
<path d="M848.6 199.8V191.1H884.2V269.6" fill="none" stroke="#000" stroke-width="1.5"/>
<text x="786.10 796.60 807.10 817.60" y="188.33" font-size="15" font-weight="bold" stroke="#000" stroke-width="0.3" style="font-family:'DejaVu Sans','Liberation Sans',sans-serif">****</text>
<text x="847.40 857.90 868.40 878.90" y="188.33" font-size="15" font-weight="bold" stroke="#000" stroke-width="0.3" style="font-family:'DejaVu Sans','Liberation Sans',sans-serif">****</text>
<text x="310.3" y="448.8" font-size="23" font-weight="bold" text-anchor="start" fill="#000">D</text>
<text x="439.8" y="424.4" font-size="15.4" font-weight="normal" text-anchor="middle" fill="#000" textLength="60.2" lengthAdjust="spacingAndGlyphs" stroke="#000" stroke-width="0.7">PAT/PET</text>
<text x="327.8" y="533.5" font-size="15.6" font-weight="normal" text-anchor="middle" fill="#000" textLength="55.6" lengthAdjust="spacingAndGlyphs" transform="rotate(-90 327.8 533.5)" stroke="#000" stroke-width="0.7">PAT/PET</text>
<path d="M374.20 608.3V498.00H396.70V608.3" fill="#03c003" stroke="#000" stroke-width="2.2"/>
<path d="M410.70 608.3V496.30H433.10V608.3" fill="#fffe9f" stroke="#000" stroke-width="2.2"/>
<path d="M447.40 608.3V513.60H469.60V608.3" fill="#fa4242" stroke="#000" stroke-width="2.2"/>
<path d="M483.60 608.3V489.80H505.80V608.3" fill="#40fdfd" stroke="#000" stroke-width="2.2"/>
<line x1="385.8" y1="488.4" x2="385.8" y2="505" stroke="#333" stroke-width="1.15"/>
<line x1="380.05" y1="488.4" x2="391.55" y2="488.4" stroke="#333" stroke-width="1.15"/>
<line x1="380.05" y1="505" x2="391.55" y2="505" stroke="#333" stroke-width="1.15"/>
<line x1="422" y1="489.5" x2="422" y2="499" stroke="#333" stroke-width="1.15"/>
<line x1="416.25" y1="489.5" x2="427.75" y2="489.5" stroke="#333" stroke-width="1.15"/>
<line x1="416.25" y1="499" x2="427.75" y2="499" stroke="#333" stroke-width="1.15"/>
<line x1="458.2" y1="494.5" x2="458.2" y2="530" stroke="#333" stroke-width="1.15"/>
<line x1="452.2" y1="494.5" x2="464.2" y2="494.5" stroke="#333" stroke-width="1.15"/>
<line x1="452.2" y1="530" x2="464.2" y2="530" stroke="#333" stroke-width="1.15"/>
<line x1="494.6" y1="475.7" x2="494.6" y2="501.3" stroke="#333" stroke-width="1.15"/>
<line x1="488.40000000000003" y1="475.7" x2="500.8" y2="475.7" stroke="#333" stroke-width="1.15"/>
<line x1="488.40000000000003" y1="501.3" x2="500.8" y2="501.3" stroke="#333" stroke-width="1.15"/>
<g fill="#000">
<circle cx="383.6" cy="478.6" r="3.6"/>
<circle cx="387.2" cy="484.2" r="3.6"/>
<circle cx="380.1" cy="490" r="3.6"/>
<circle cx="376.2" cy="492.2" r="3.6"/>
<circle cx="393.9" cy="491.8" r="3.6"/>
<circle cx="390.4" cy="493.4" r="3.6"/>
<circle cx="383.3" cy="495.1" r="3.6"/>
<circle cx="376.8" cy="502.2" r="3.6"/>
<circle cx="380.3" cy="505.2" r="3.6"/>
<circle cx="383.9" cy="505.5" r="3.6"/>
<circle cx="390.4" cy="506.9" r="3.6"/>
<circle cx="393.3" cy="502.8" r="3.6"/>
<circle cx="386.8" cy="503.4" r="3.6"/>
<rect x="415.46" y="482.26" width="6.48" height="6.48"/>
<rect x="427.26" y="486.56" width="6.48" height="6.48"/>
<rect x="409.56" y="487.76" width="6.48" height="6.48"/>
<rect x="415.46" y="489.56" width="6.48" height="6.48"/>
<rect x="421.96" y="491.26" width="6.48" height="6.48"/>
<rect x="427.26" y="492.46" width="6.48" height="6.48"/>
<rect x="409.56" y="494.76" width="6.48" height="6.48"/>
<rect x="421.96" y="497.16" width="6.48" height="6.48"/>
<rect x="415.46" y="502.46" width="6.48" height="6.48"/>
<path d="M445.80 496.06L453.00 496.06L449.4 489.58Z"/>
<path d="M463.50 494.06L470.70 494.06L467.1 487.58Z"/>
<path d="M454.60 499.36L461.80 499.36L458.2 492.88Z"/>
<path d="M445.40 503.86L452.60 503.86L449 497.38Z"/>
<path d="M463.50 508.26L470.70 508.26L467.1 501.78Z"/>
<path d="M454.60 509.36L461.80 509.36L458.2 502.88Z"/>
<path d="M454.60 521.16L461.80 521.16L458.2 514.68Z"/>
<path d="M454.60 533.56L461.80 533.56L458.2 527.08Z"/>
<path d="M445.00 530.06L452.20 530.06L448.6 523.58Z"/>
<path d="M464.30 530.06L471.50 530.06L467.9 523.58Z"/>
<path d="M454.60 544.26L461.80 544.26L458.2 537.78Z"/>
<path d="M491.20 464.94L498.40 464.94L494.8 471.42Z"/>
<path d="M491.20 475.54L498.40 475.54L494.8 482.02Z"/>
<path d="M499.70 474.64L506.90 474.64L503.3 481.12Z"/>
<path d="M482.00 480.64L489.20 480.64L485.6 487.12Z"/>
<path d="M499.70 482.64L506.90 482.64L503.3 489.12Z"/>
<path d="M491.20 484.94L498.40 484.94L494.8 491.42Z"/>
<path d="M482.00 487.94L489.20 487.94L485.6 494.42Z"/>
<path d="M500.40 488.54L507.60 488.54L504 495.02Z"/>
<path d="M491.20 493.24L498.40 493.24L494.8 499.72Z"/>
<path d="M491.20 513.34L498.40 513.34L494.8 519.82Z"/>
</g>
<line x1="361.3" y1="457.5" x2="361.3" y2="609.0999999999999" stroke="#000" stroke-width="1.7"/>
<line x1="354.3" y1="608.3" x2="519.5" y2="608.3" stroke="#000" stroke-width="1.7"/>
<line x1="354.3" y1="458.3" x2="361.3" y2="458.3" stroke="#000" stroke-width="1.7"/>
<text x="352.1" y="462.5" font-size="12" font-weight="bold" text-anchor="end" fill="#000" textLength="16" lengthAdjust="spacingAndGlyphs" stroke="#000" stroke-width="0.2">0.4</text>
<line x1="354.3" y1="495.8" x2="361.3" y2="495.8" stroke="#000" stroke-width="1.7"/>
<text x="352.1" y="500.0" font-size="12" font-weight="bold" text-anchor="end" fill="#000" textLength="16" lengthAdjust="spacingAndGlyphs" stroke="#000" stroke-width="0.2">0.3</text>
<line x1="354.3" y1="533.3" x2="361.3" y2="533.3" stroke="#000" stroke-width="1.7"/>
<text x="352.1" y="537.5" font-size="12" font-weight="bold" text-anchor="end" fill="#000" textLength="16" lengthAdjust="spacingAndGlyphs" stroke="#000" stroke-width="0.2">0.2</text>
<line x1="354.3" y1="570.8" x2="361.3" y2="570.8" stroke="#000" stroke-width="1.7"/>
<text x="352.1" y="575.0" font-size="12" font-weight="bold" text-anchor="end" fill="#000" textLength="16" lengthAdjust="spacingAndGlyphs" stroke="#000" stroke-width="0.2">0.1</text>
<text x="352.1" y="612.5" font-size="12" font-weight="bold" text-anchor="end" fill="#000" textLength="16" lengthAdjust="spacingAndGlyphs" stroke="#000" stroke-width="0.2">0.0</text>
<line x1="385.5" y1="608.3" x2="385.5" y2="614.6999999999999" stroke="#000" stroke-width="1.8"/>
<line x1="422" y1="608.3" x2="422" y2="614.6999999999999" stroke="#000" stroke-width="1.8"/>
<line x1="459" y1="608.3" x2="459" y2="614.6999999999999" stroke="#000" stroke-width="1.8"/>
<line x1="495" y1="608.3" x2="495" y2="614.6999999999999" stroke="#000" stroke-width="1.8"/>
<text x="385" y="626.6" font-size="12" font-weight="bold" text-anchor="middle" fill="#000" textLength="16.8" lengthAdjust="spacingAndGlyphs">RA</text>
<text x="421.8" y="626.6" font-size="12" font-weight="bold" text-anchor="middle" fill="#000" textLength="16.8" lengthAdjust="spacingAndGlyphs">RA</text>
<text x="421.8" y="639.3" font-size="12" font-weight="bold" text-anchor="middle" fill="#000" textLength="39.5" lengthAdjust="spacingAndGlyphs">VX-765</text>
<text x="458" y="626.6" font-size="12" font-weight="bold" text-anchor="middle" fill="#000" textLength="24.3" lengthAdjust="spacingAndGlyphs">HYP</text>
<text x="494.3" y="626.6" font-size="12" font-weight="bold" text-anchor="middle" fill="#000" textLength="24.3" lengthAdjust="spacingAndGlyphs">HYP</text>
<text x="494.3" y="639.3" font-size="12" font-weight="bold" text-anchor="middle" fill="#000" textLength="39.5" lengthAdjust="spacingAndGlyphs">VX-765</text>
<path d="M385.3 469.6V451H455.1V482" fill="none" stroke="#000" stroke-width="1.5"/>
<path d="M461.2 482V451H494.7V459.8" fill="none" stroke="#000" stroke-width="1.5"/>
<text x="416.62" y="449.14" font-size="14.2" font-weight="bold" stroke="#000" stroke-width="0.3" style="font-family:'DejaVu Sans','Liberation Sans',sans-serif">*</text>
<text x="465.42 475.12 484.82" y="449.14" font-size="14.2" font-weight="bold" stroke="#000" stroke-width="0.3" style="font-family:'DejaVu Sans','Liberation Sans',sans-serif">***</text>
<text x="545.5" y="448.8" font-size="23" font-weight="bold" text-anchor="start" fill="#000" textLength="13.2" lengthAdjust="spacingAndGlyphs">E</text>
<text x="684.8" y="424.5" font-size="15.6" font-weight="normal" text-anchor="middle" fill="#000" textLength="48.7" lengthAdjust="spacingAndGlyphs" stroke="#000" stroke-width="0.7">TAPSE</text>
<text x="565.0" y="527.5" font-size="15.2" font-weight="bold" text-anchor="middle" fill="#000" textLength="88.8" lengthAdjust="spacingAndGlyphs" transform="rotate(-90 565.0 527.5)" stroke="#000" stroke-width="0.1">TAPSE (mm)</text>
<path d="M615.10 606.3V516.50H638.40V606.3" fill="#03c003" stroke="#000" stroke-width="2.2"/>
<path d="M653.60 606.3V505.80H676.80V606.3" fill="#fffe9f" stroke="#000" stroke-width="2.2"/>
<path d="M691.80 606.3V538.40H715.00V606.3" fill="#fa4242" stroke="#000" stroke-width="2.2"/>
<path d="M730.10 606.3V516.10H753.40V606.3" fill="#40fdfd" stroke="#000" stroke-width="2.2"/>
<line x1="627" y1="504.8" x2="627" y2="526" stroke="#333" stroke-width="1.15"/>
<line x1="621.0" y1="504.8" x2="633.0" y2="504.8" stroke="#333" stroke-width="1.15"/>
<line x1="621.0" y1="526" x2="633.0" y2="526" stroke="#333" stroke-width="1.15"/>
<line x1="665" y1="484.8" x2="665" y2="523.1" stroke="#333" stroke-width="1.15"/>
<line x1="658.75" y1="484.8" x2="671.25" y2="484.8" stroke="#333" stroke-width="1.15"/>
<line x1="658.75" y1="523.1" x2="671.25" y2="523.1" stroke="#333" stroke-width="1.15"/>
<line x1="703.2" y1="526.3" x2="703.2" y2="547" stroke="#333" stroke-width="1.15"/>
<line x1="696.95" y1="526.3" x2="709.45" y2="526.3" stroke="#333" stroke-width="1.15"/>
<line x1="696.95" y1="547" x2="709.45" y2="547" stroke="#333" stroke-width="1.15"/>
<line x1="741.5" y1="495.6" x2="741.5" y2="533.8" stroke="#333" stroke-width="1.15"/>
<line x1="735.5" y1="495.6" x2="747.5" y2="495.6" stroke="#333" stroke-width="1.15"/>
<line x1="735.5" y1="533.8" x2="747.5" y2="533.8" stroke="#333" stroke-width="1.15"/>
<g fill="#000">
<circle cx="631.5" cy="497.5" r="3.6"/>
<circle cx="626.9" cy="500.6" r="3.6"/>
<circle cx="621.9" cy="502.5" r="3.6"/>
<circle cx="621.9" cy="509.4" r="3.6"/>
<circle cx="616.9" cy="511" r="3.6"/>
<circle cx="631.5" cy="515" r="3.6"/>
<circle cx="621.9" cy="515.6" r="3.6"/>
<circle cx="616.9" cy="517.5" r="3.6"/>
<circle cx="626.3" cy="518.1" r="3.6"/>
<circle cx="631.9" cy="521.9" r="3.6"/>
<circle cx="626.9" cy="524.4" r="3.6"/>
<circle cx="631.5" cy="528.8" r="3.6"/>
<circle cx="621.9" cy="531.9" r="3.6"/>
<rect x="657.06" y="475.76" width="6.48" height="6.48"/>
<rect x="666.56" y="474.66" width="6.48" height="6.48"/>
<rect x="666.56" y="487.66" width="6.48" height="6.48"/>
<rect x="657.06" y="491.76" width="6.48" height="6.48"/>
<rect x="652.16" y="498.66" width="6.48" height="6.48"/>
<rect x="661.76" y="503.06" width="6.48" height="6.48"/>
<rect x="652.16" y="509.26" width="6.48" height="6.48"/>
<rect x="661.76" y="514.86" width="6.48" height="6.48"/>
<rect x="671.36" y="514.56" width="6.48" height="6.48"/>
<rect x="661.76" y="537.16" width="6.48" height="6.48"/>
<path d="M696.40 524.26L703.60 524.26L700 517.78Z"/>
<path d="M702.90 524.26L710.10 524.26L706.5 517.78Z"/>
<path d="M690.40 532.66L697.60 532.66L694 526.18Z"/>
<path d="M702.70 537.46L709.90 537.46L706.3 530.98Z"/>
<path d="M690.60 540.06L697.80 540.06L694.2 533.58Z"/>
<path d="M696.40 540.06L703.60 540.06L700 533.58Z"/>
<path d="M708.90 540.06L716.10 540.06L712.5 533.58Z"/>
<path d="M690.00 548.06L697.20 548.06L693.6 541.58Z"/>
<path d="M696.40 548.06L703.60 548.06L700 541.58Z"/>
<path d="M709.20 549.06L716.40 549.06L712.8 542.58Z"/>
<path d="M701.90 552.06L709.10 552.06L705.5 545.58Z"/>
<path d="M690.90 554.06L698.10 554.06L694.5 547.58Z"/>
<path d="M737.90 477.54L745.10 477.54L741.5 484.02Z"/>
<path d="M737.90 490.04L745.10 490.04L741.5 496.52Z"/>
<path d="M733.30 499.04L740.50 499.04L736.9 505.52Z"/>
<path d="M742.70 499.04L749.90 499.04L746.3 505.52Z"/>
<path d="M737.90 506.74L745.10 506.74L741.5 513.22Z"/>
<path d="M729.40 513.94L736.60 513.94L733 520.42Z"/>
<path d="M747.00 513.94L754.20 513.94L750.6 520.42Z"/>
<path d="M737.90 521.34L745.10 521.34L741.5 527.82Z"/>
<path d="M733.30 528.84L740.50 528.84L736.9 535.32Z"/>
<path d="M742.70 528.84L749.90 528.84L746.3 535.32Z"/>
<path d="M737.90 538.84L745.10 538.84L741.5 545.32Z"/>
</g>
<line x1="601.35" y1="448.0" x2="601.35" y2="607.0999999999999" stroke="#000" stroke-width="1.7"/>
<line x1="594.35" y1="606.3" x2="767.5" y2="606.3" stroke="#000" stroke-width="1.7"/>
<line x1="594.35" y1="448.8" x2="601.35" y2="448.8" stroke="#000" stroke-width="1.7"/>
<text x="591.65" y="453.0" font-size="12" font-weight="bold" text-anchor="end" fill="#000" textLength="17.5" lengthAdjust="spacingAndGlyphs" stroke="#000" stroke-width="0.2">1.5</text>
<line x1="594.35" y1="501.3" x2="601.35" y2="501.3" stroke="#000" stroke-width="1.7"/>
<text x="591.65" y="505.5" font-size="12" font-weight="bold" text-anchor="end" fill="#000" textLength="17.5" lengthAdjust="spacingAndGlyphs" stroke="#000" stroke-width="0.2">1.0</text>
<line x1="594.35" y1="553.8" x2="601.35" y2="553.8" stroke="#000" stroke-width="1.7"/>
<text x="591.65" y="558.0" font-size="12" font-weight="bold" text-anchor="end" fill="#000" textLength="17.5" lengthAdjust="spacingAndGlyphs" stroke="#000" stroke-width="0.2">0.5</text>
<text x="591.65" y="610.5" font-size="12" font-weight="bold" text-anchor="end" fill="#000" textLength="17.5" lengthAdjust="spacingAndGlyphs" stroke="#000" stroke-width="0.2">0.0</text>
<line x1="627" y1="606.3" x2="627" y2="612.6999999999999" stroke="#000" stroke-width="1.8"/>
<line x1="665" y1="606.3" x2="665" y2="612.6999999999999" stroke="#000" stroke-width="1.8"/>
<line x1="703.5" y1="606.3" x2="703.5" y2="612.6999999999999" stroke="#000" stroke-width="1.8"/>
<line x1="741.8" y1="606.3" x2="741.8" y2="612.6999999999999" stroke="#000" stroke-width="1.8"/>
<text x="626.3" y="625" font-size="12" font-weight="bold" text-anchor="middle" fill="#000" textLength="17" lengthAdjust="spacingAndGlyphs">RA</text>
<text x="664.5" y="625" font-size="12" font-weight="bold" text-anchor="middle" fill="#000" textLength="17" lengthAdjust="spacingAndGlyphs">RA</text>
<text x="664.5" y="638.8" font-size="12" font-weight="bold" text-anchor="middle" fill="#000" textLength="41.8" lengthAdjust="spacingAndGlyphs">VX-765</text>
<text x="703.3" y="625" font-size="12" font-weight="bold" text-anchor="middle" fill="#000" textLength="25.5" lengthAdjust="spacingAndGlyphs">HYP</text>
<text x="741.3" y="625" font-size="12" font-weight="bold" text-anchor="middle" fill="#000" textLength="25.5" lengthAdjust="spacingAndGlyphs">HYP</text>
<text x="741.3" y="638.8" font-size="12" font-weight="bold" text-anchor="middle" fill="#000" textLength="41.8" lengthAdjust="spacingAndGlyphs">VX-765</text>
<path d="M626.4 487.8V459.1H699.9V511.1" fill="none" stroke="#000" stroke-width="1.5"/>
<path d="M706.6 511.1V459.1H741.5V470.8" fill="none" stroke="#000" stroke-width="1.5"/>
<text x="654.80 665.40" y="456.53" font-size="15" font-weight="bold" stroke="#000" stroke-width="0.3" style="font-family:'DejaVu Sans','Liberation Sans',sans-serif">**</text>
<text x="715.40 726.00" y="456.53" font-size="15" font-weight="bold" stroke="#000" stroke-width="0.3" style="font-family:'DejaVu Sans','Liberation Sans',sans-serif">**</text>
</svg></body></html>
